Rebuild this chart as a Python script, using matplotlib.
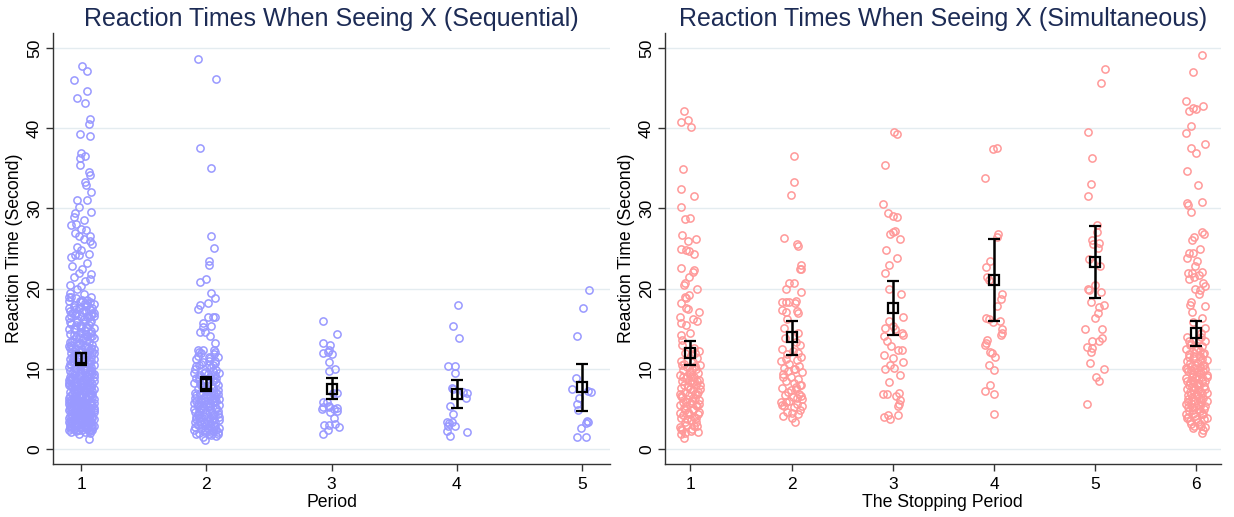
"""
Reaction time strip plots (Sequential vs Simultaneous) with mean and 95% CI
"""
import matplotlib
matplotlib.use('Agg')
import matplotlib.pyplot as plt

plt.rcParams['font.family'] = ['Liberation Sans', 'DejaVu Sans']

# ---- data: (jitter, reaction time in seconds) per period ----
seq_p1 = [
    (0.01, 47.8), (0.05, 47.2), (-0.06, 46.0), (0.05, 44.6), (-0.03, 43.8), (0.03, 43.2),
    (0.07, 41.2), (0.06, 40.5), (-0.01, 39.3), (0.07, 39.0), (0.00, 36.9), (0.03, 36.5),
    (-0.01, 36.3), (-0.01, 35.4), (0.06, 34.5), (0.07, 34.2), (0.03, 33.3), (0.04, 32.9),
    (0.08, 32.1), (0.05, 31.1), (-0.03, 31.0), (-0.02, 30.2), (0.08, 29.5), (-0.05, 29.4),
    (0.02, 28.5), (-0.06, 28.9), (-0.08, 27.9), (-0.04, 28.0), (0.00, 27.4), (0.04, 27.3),
    (-0.05, 26.9), (-0.02, 26.6), (0.07, 26.6), (0.02, 26.2), (0.09, 25.5), (0.07, 25.9),
    (-0.03, 25.2), (0.00, 24.8), (-0.05, 24.2), (-0.08, 24.0), (-0.02, 24.2), (0.06, 24.3),
    (-0.07, 22.8), (0.01, 22.4), (0.05, 23.2), (-0.02, 21.9), (-0.06, 21.4), (0.08, 21.8),
    (0.07, 21.2), (0.03, 21.0), (-0.09, 20.5), (0.00, 20.3), (-0.03, 20.0),
    (-0.09, 19.5), (0.02, 19.3), (0.08, 19.0), (-0.04, 18.8), (0.05, 18.6), (-0.10, 18.4),
    (0.00, 18.3), (0.10, 18.1), (-0.06, 17.9), (0.04, 17.8), (-0.02, 17.6), (0.07, 17.4),
    (-0.09, 17.2), (0.01, 17.1), (0.09, 16.9), (-0.05, 16.7), (0.05, 16.5), (-0.10, 16.3),
    (0.02, 16.2), (0.08, 16.0), (-0.03, 15.8), (-0.08, 15.6), (0.06, 15.5), (0.00, 15.3),
    (0.10, 15.1), (-0.06, 15.0), (0.03, 14.8), (-0.01, 14.6), (0.08, 14.5), (-0.09, 14.3),
    (0.05, 14.1), (-0.04, 14.0), (0.10, 13.8), (0.01, 13.6), (-0.07, 13.5), (0.06, 13.3),
    (-0.02, 13.1), (0.09, 13.0), (-0.10, 12.8), (0.03, 12.7), (-0.05, 12.5), (0.07, 12.3),
    (0.00, 12.2), (-0.08, 12.0), (0.10, 11.9), (0.04, 11.7), (-0.03, 11.5), (0.08, 11.4),
    (-0.09, 11.2), (0.02, 11.0), (-0.06, 10.9), (0.06, 10.7), (0.10, 10.5), (-0.01, 10.4),
    (-0.10, 10.2), (0.04, 10.1), (-0.04, 9.9), (0.08, 9.8), (0.00, 9.6), (-0.07, 9.5),
    (0.06, 9.3), (-0.02, 9.2), (0.10, 9.0), (-0.09, 8.9), (0.03, 8.8), (-0.05, 8.6),
    (0.07, 8.5), (0.01, 8.3), (-0.10, 8.2), (0.09, 8.1), (-0.03, 7.9), (0.05, 7.8),
    (-0.07, 7.7), (0.02, 7.5), (0.10, 7.4), (-0.01, 7.3), (-0.09, 7.1), (0.06, 7.0),
    (-0.04, 6.9), (0.08, 6.8), (0.00, 6.6), (-0.06, 6.5), (0.04, 6.4), (-0.10, 6.3),
    (0.10, 6.2), (-0.02, 6.0), (0.07, 5.9), (-0.08, 5.8), (0.02, 5.7), (-0.04, 5.6),
    (0.09, 5.5), (-0.09, 5.4), (0.05, 5.3), (0.00, 5.2), (-0.06, 5.1), (0.08, 5.0),
    (-0.01, 4.9), (-0.10, 4.8), (0.04, 4.7), (0.10, 4.6), (-0.05, 4.5), (0.01, 4.4),
    (-0.08, 4.3), (0.07, 4.2), (-0.03, 4.1), (0.05, 4.0), (-0.10, 3.9), (0.09, 3.8),
    (0.00, 3.7), (-0.06, 3.6), (0.03, 3.5), (-0.02, 3.4), (0.08, 3.3), (-0.09, 3.2),
    (0.06, 3.1), (-0.04, 3.0), (0.02, 2.9), (0.10, 2.8), (-0.07, 2.7), (-0.01, 2.6),
    (0.05, 2.5), (-0.10, 2.4), (0.09, 2.3), (-0.04, 2.2), (0.03, 2.1), (0.07, 2.0),
    (-0.02, 1.9), (0.06, 1.2),
    (0.05, 18.0), (-0.07, 16.9), (0.03, 15.9), (-0.05, 14.9), (0.07, 13.9), (-0.03, 12.9),
    (0.05, 11.8), (-0.07, 10.8), (0.02, 10.0), (-0.05, 9.4), (0.05, 9.1), (-0.08, 8.7),
    (0.07, 8.4), (-0.03, 8.0), (0.04, 7.6), (-0.06, 7.2), (0.01, 6.8), (0.09, 6.5),
    (-0.08, 6.1), (0.03, 5.8), (-0.03, 5.4), (0.06, 5.1), (-0.07, 4.8), (0.02, 4.5),
    (0.08, 4.3), (-0.05, 4.0), (0.01, 3.8), (-0.08, 3.5), (0.06, 3.3), (-0.03, 3.1),
    (0.04, 2.8), (-0.06, 2.5), (0.01, 2.3), (0.09, 2.6), (-0.09, 2.9), (0.07, 3.6),
    (-0.01, 4.2), (0.10, 4.9), (-0.10, 5.6), (0.03, 6.3), (-0.04, 7.0), (0.08, 7.7),
    (-0.09, 8.4), (0.00, 9.0), (0.09, 9.5), (-0.02, 10.6), (0.06, 11.1), (-0.06, 11.6),
    (0.01, 12.4), (-0.09, 13.3), (0.04, 14.3), (-0.01, 15.5), (0.08, 16.7), (-0.04, 17.4),
    (0.01, 18.6),
    (-0.08, 19.0), (0.03, 18.2), (0.09, 17.6), (-0.04, 17.0), (0.06, 16.4), (-0.09, 15.8),
    (0.00, 15.1), (0.08, 14.7), (-0.06, 14.2), (0.02, 13.8), (-0.01, 13.2), (0.05, 12.8),
    (-0.07, 12.4), (0.09, 12.1), (-0.04, 11.9), (0.02, 11.3), (0.08, 10.9), (-0.09, 10.6),
    (0.00, 10.3), (0.05, 9.9), (-0.06, 9.7), (0.10, 9.3), (-0.02, 9.1), (-0.10, 8.6),
    (0.04, 8.6), (-0.04, 8.3), (0.07, 8.0), (-0.08, 7.8), (0.01, 7.7), (0.09, 7.2),
    (-0.05, 7.4), (0.03, 7.1), (-0.02, 6.7), (0.06, 6.6), (-0.09, 6.6), (0.00, 6.3),
    (0.08, 6.0), (-0.06, 5.9), (0.04, 5.5), (-0.03, 5.8), (0.10, 5.7), (-0.08, 5.2),
    (0.02, 5.0), (0.07, 4.8), (-0.05, 4.6), (-0.01, 4.7), (0.05, 4.4), (-0.09, 4.1),
    (0.09, 4.1), (0.02, 3.9), (-0.04, 3.8), (0.06, 3.6), (-0.07, 3.4), (0.00, 3.2),
    (0.09, 3.0), (-0.05, 2.8), (0.04, 2.6), (-0.02, 2.4), (0.07, 2.2), (-0.08, 2.1),
    (0.10, 16.6), (-0.10, 17.6), (0.04, 17.2), (-0.03, 16.1), (0.01, 14.4), (-0.08, 13.0),
    (0.10, 12.5), (-0.03, 10.9), (0.08, 10.2), (-0.06, 8.0), (0.03, 9.5), (-0.01, 8.5),
    (0.06, 7.4), (-0.03, 6.4), (0.01, 5.4), (-0.06, 4.2), (0.03, 3.3), (-0.09, 2.6),
    (0.07, 9.8), (-0.07, 11.4),
    (-0.10, 18.9), (-0.01, 18.5), (0.07, 18.3), (-0.06, 17.7), (0.02, 17.3), (0.10, 17.0),
    (-0.08, 16.6), (0.00, 16.4), (0.07, 15.8), (-0.04, 15.4), (0.04, 15.2), (-0.10, 14.9),
    (0.09, 14.1), (-0.02, 13.9), (-0.06, 13.7), (0.05, 13.6), (0.01, 13.0), (-0.09, 12.6),
    (0.08, 12.6), (-0.02, 12.1), (0.04, 11.5), (-0.06, 11.3), (0.10, 11.2), (-0.03, 11.0),
    (0.01, 10.7), (-0.08, 10.5), (0.06, 10.4), (-0.05, 10.1), (0.03, 9.8), (-0.09, 9.7),
    (0.08, 9.6), (-0.01, 9.4), (0.05, 8.9), (-0.07, 8.9), (0.02, 8.5), (0.10, 8.4),
    (-0.05, 8.2), (0.00, 8.0), (-0.10, 7.9), (0.06, 7.6), (-0.03, 7.5), (0.03, 7.3),
    (-0.07, 6.9), (0.09, 6.9), (0.00, 6.5), (-0.05, 6.2), (0.05, 6.1), (-0.10, 6.0),
    (0.01, 5.9), (0.08, 5.6), (-0.06, 5.5), (-0.02, 5.3), (0.05, 5.2), (0.10, 5.1),
    (-0.09, 5.0), (0.00, 4.8), (-0.04, 4.4), (0.07, 4.5), (-0.07, 4.0), (0.03, 4.2),
    (0.10, 3.7), (-0.01, 3.6), (-0.10, 3.4), (0.05, 3.4), (-0.05, 3.2), (0.02, 3.0),
    (0.08, 2.9), (-0.08, 2.8), (0.00, 2.7), (0.06, 2.4), (-0.03, 2.3),
]
seq_p2 = [
    (-0.07, 48.6), (0.08, 46.2), (-0.05, 37.6), (0.04, 35.1), (0.04, 26.6), (0.06, 25.0),
    (0.02, 23.4), (0.02, 23.0), (0.00, 21.2), (-0.05, 20.8), (0.04, 19.5), (0.07, 18.8),
    (0.01, 18.2), (-0.05, 18.0), (-0.07, 17.4), (0.01, 16.5), (0.05, 16.5), (0.07, 16.5),
    (-0.03, 15.7), (-0.03, 15.2), (0.04, 15.3), (-0.05, 14.6), (-0.01, 14.6), (0.03, 14.1),
    (0.07, 13.2), (-0.07, 12.3), (-0.06, 12.1), (0.06, 12.3),
    (-0.04, 12.0), (0.06, 11.8), (0.09, 11.4), (-0.08, 11.2), (0.02, 11.0), (0.07, 10.7),
    (-0.06, 10.4), (0.04, 10.2), (-0.09, 10.0), (0.08, 9.8), (-0.01, 9.6), (0.10, 9.4),
    (-0.05, 9.2), (0.03, 9.0), (-0.08, 8.8), (0.06, 8.6), (0.00, 8.4), (-0.10, 8.2),
    (0.09, 8.0), (-0.03, 7.8), (0.05, 7.6), (-0.07, 7.4), (0.01, 7.2), (0.08, 7.0),
    (-0.05, 6.8), (0.03, 6.6), (-0.09, 6.4), (0.10, 6.2), (-0.01, 6.0), (0.06, 5.8),
    (-0.07, 5.6), (0.02, 5.5), (-0.03, 5.3), (0.08, 5.1), (-0.10, 5.0), (0.04, 4.8),
    (0.00, 4.6), (-0.06, 4.4), (0.09, 4.3), (-0.02, 4.1), (0.05, 3.9), (-0.08, 3.7),
    (0.01, 3.5), (0.07, 3.3), (-0.04, 3.1), (0.03, 2.9), (-0.09, 2.7), (0.10, 2.6),
    (-0.01, 2.4), (0.05, 2.2), (-0.06, 2.0), (0.02, 1.8), (0.08, 1.6), (-0.03, 1.5),
    (-0.01, 1.1), (0.09, 1.9),
    (0.02, 11.5), (-0.03, 10.8), (0.05, 9.7), (-0.06, 9.0), (0.08, 8.3), (-0.02, 7.7),
    (0.04, 7.1), (-0.08, 6.7), (0.07, 6.4), (-0.04, 5.9), (0.01, 5.2), (0.09, 4.7),
    (-0.07, 4.2), (0.03, 3.8), (-0.01, 3.3), (0.06, 2.8), (-0.10, 2.3), (0.04, 2.1),
    (-0.05, 3.5), (0.10, 4.0), (-0.09, 4.6), (0.00, 5.6), (0.06, 6.9), (-0.04, 7.9),
    (0.02, 8.7), (0.07, 9.2), (-0.08, 10.3), (0.03, 11.3), (-0.05, 5.0), (0.08, 6.0),
    (-0.02, 6.3), (0.01, 2.6),
    (-0.07, 11.6), (0.05, 10.5), (-0.02, 9.4), (0.08, 8.8), (-0.05, 8.1), (0.01, 7.5),
    (0.09, 6.8), (-0.08, 6.0), (0.03, 5.7), (-0.03, 4.9), (0.06, 4.4), (-0.06, 3.9),
    (0.00, 3.0), (0.08, 2.4), (-0.04, 2.6), (0.04, 1.7), (-0.09, 3.4), (0.10, 5.5),
    (-0.01, 6.6), (0.05, 8.5), (-0.10, 9.5), (0.02, 10.4), (0.07, 12.1), (-0.03, 12.3),
    (0.01, 4.0), (-0.07, 5.3), (0.06, 3.6), (-0.01, 2.1), (0.04, 6.1), (-0.05, 7.0),
    (-0.06, 8.6), (0.04, 8.0), (-0.02, 7.4), (0.09, 7.3), (-0.09, 7.0), (0.01, 6.7),
    (0.06, 6.3), (-0.04, 6.2), (-0.10, 5.7), (0.03, 5.4), (0.08, 5.0), (-0.06, 4.7),
    (0.00, 4.3), (0.05, 4.2), (-0.08, 4.0), (0.10, 3.6), (-0.02, 3.4), (0.03, 3.2),
    (-0.07, 3.0), (0.07, 2.9), (-0.04, 2.5), (0.02, 2.3), (0.09, 2.1), (-0.08, 1.9),
    (0.01, 9.3), (-0.04, 10.6), (0.07, 11.0),
]
seq_p3 = [
    (-0.07, 16.0), (0.04, 14.3), (-0.07, 13.2), (-0.01, 13.0), (-0.07, 11.9), (-0.03, 12.1),
    (-0.02, 12.3), (0.00, 11.8), (-0.02, 10.8), (-0.02, 9.7), (0.03, 10.0), (0.01, 7.0),
    (0.04, 7.0), (-0.07, 5.9), (-0.04, 5.9), (-0.02, 5.4), (-0.08, 5.0), (-0.07, 5.2),
    (-0.02, 5.2), (0.02, 5.0), (0.04, 5.1), (-0.01, 4.6), (0.04, 4.7), (0.02, 3.8),
    (-0.06, 3.0), (-0.02, 3.0), (-0.03, 2.4), (0.03, 3.1), (0.06, 2.7), (-0.07, 1.8),
]
seq_p4 = [
    (0.01, 17.9), (-0.03, 15.3), (0.02, 13.8), (-0.07, 10.3), (-0.01, 10.3), (-0.01, 9.5),
    (-0.04, 7.6), (-0.03, 7.5), (0.05, 7.1), (0.08, 7.0), (0.07, 6.3), (-0.05, 5.4),
    (-0.03, 4.3), (-0.08, 3.3), (-0.06, 3.2), (-0.04, 3.3), (-0.07, 2.9), (-0.01, 2.9),
    (-0.08, 2.2), (0.08, 2.1), (-0.05, 1.6),
]
seq_p5 = [
    (0.06, 19.8), (0.01, 17.6), (-0.04, 14.1), (-0.05, 8.8), (-0.08, 7.4), (0.07, 7.1),
    (0.05, 7.2), (-0.02, 6.4), (-0.04, 5.6), (-0.03, 4.8), (0.04, 3.5), (0.05, 3.4),
    (0.03, 3.2), (-0.01, 2.6), (-0.04, 1.5), (0.03, 1.5),
]

sim_p1 = [
    (-0.06, 42.1), (-0.09, 40.8), (-0.02, 41.0), (0.01, 40.2), (-0.07, 34.9), (-0.09, 32.4),
    (0.04, 31.5), (-0.09, 30.2), (-0.05, 28.7), (0.00, 28.8), (-0.08, 26.7), (0.06, 26.2),
    (-0.02, 25.9), (-0.09, 24.9), (-0.04, 24.8), (-0.01, 24.7), (0.04, 24.3), (-0.09, 22.6),
    (0.03, 22.1), (0.04, 22.3), (-0.01, 21.4), (-0.05, 20.7), (-0.06, 20.5), (0.07, 19.9),
    (-0.01, 19.2), (-0.04, 18.8), (-0.05, 19.0), (-0.09, 18.2), (-0.04, 17.6), (-0.02, 17.4),
    (0.09, 17.1), (0.03, 16.2), (0.07, 16.0), (-0.10, 16.5), (-0.09, 15.7), (-0.04, 15.4),
    (0.00, 14.4), (-0.09, 14.2), (-0.08, 13.6),
    (-0.08, 13.0), (0.04, 12.6), (0.09, 12.2), (-0.05, 12.0), (0.01, 11.7), (0.07, 11.3),
    (-0.09, 11.0), (0.03, 10.8), (0.10, 10.5), (-0.03, 10.2), (0.06, 10.0), (-0.07, 9.8),
    (0.00, 9.6), (0.08, 9.4), (-0.10, 9.2), (0.04, 9.0), (-0.04, 8.8), (0.09, 8.6),
    (-0.08, 8.4), (0.02, 8.2), (0.06, 8.0), (-0.02, 7.8), (-0.09, 7.6), (0.10, 7.5),
    (0.03, 7.3), (-0.05, 7.1), (0.07, 6.9), (-0.01, 6.7), (-0.08, 6.5), (0.05, 6.3),
    (0.09, 6.1), (-0.04, 5.9), (0.01, 5.7), (-0.10, 5.5), (0.07, 5.3), (-0.06, 5.1),
    (0.03, 4.9), (-0.02, 4.6), (0.08, 4.4), (-0.07, 4.2), (0.04, 4.0), (-0.09, 3.8),
    (0.01, 3.6), (0.06, 3.3), (-0.04, 3.0), (-0.10, 2.7), (0.02, 2.5), (-0.08, 2.3),
    (-0.05, 2.0), (-0.09, 1.9), (0.08, 2.1), (-0.06, 1.4),
    (0.05, 11.9), (-0.06, 10.6), (0.02, 9.9), (-0.03, 9.1), (0.07, 8.5), (-0.06, 8.0),
    (0.00, 7.4), (0.05, 6.8), (-0.03, 6.2), (0.09, 5.6), (-0.07, 5.8), (0.03, 5.0),
    (-0.01, 4.3), (0.06, 3.9), (-0.05, 3.4), (0.10, 7.9), (-0.10, 6.9), (0.01, 8.9),
    (-0.09, 2.5), (0.04, 2.8),
    (-0.07, 9.0), (0.04, 8.4), (-0.02, 7.7), (0.08, 7.1), (-0.09, 6.6), (0.02, 6.0),
    (0.06, 5.5), (-0.05, 4.8), (0.09, 4.6), (-0.03, 3.7), (0.00, 9.3), (0.05, 10.3),
    (-0.08, 10.4), (0.03, 6.4), (-0.04, 5.3), (0.07, 2.9), (-0.10, 4.5), (0.01, 2.2),
]
sim_p2 = [
    (0.02, 36.6), (0.02, 33.3), (-0.01, 31.7), (-0.07, 26.3), (0.05, 25.5), (0.06, 25.3),
    (0.09, 23.0), (0.09, 22.4), (0.08, 22.5), (-0.02, 20.7), (0.02, 20.7), (-0.05, 19.9),
    (0.09, 19.6), (-0.09, 18.3), (-0.05, 18.3), (-0.02, 18.3), (0.03, 18.2), (0.04, 18.5),
    (-0.09, 17.3), (-0.05, 17.1), (0.05, 17.2), (0.06, 17.0), (-0.04, 16.2), (-0.07, 15.1),
    (0.06, 14.4),
    (-0.06, 13.8), (0.04, 13.3), (0.08, 12.9), (-0.09, 12.5), (0.01, 12.2), (-0.04, 11.8),
    (0.09, 11.5), (0.05, 11.1), (-0.10, 10.9), (-0.02, 10.6), (0.07, 10.3), (-0.07, 10.1),
    (0.03, 9.9), (0.10, 9.6), (-0.08, 9.3), (-0.01, 9.0), (0.06, 8.7), (-0.05, 8.4),
    (0.02, 8.2), (0.09, 7.9), (-0.09, 7.6), (0.04, 7.4), (-0.03, 7.1), (0.07, 6.9),
    (-0.06, 6.7), (0.01, 6.5), (0.10, 6.2), (-0.02, 6.0), (-0.10, 5.8), (0.05, 5.6),
    (-0.07, 5.4), (0.02, 5.2), (0.08, 4.9), (-0.04, 4.6), (0.06, 4.3), (-0.08, 4.1),
    (0.00, 3.9), (0.03, 3.4),
    (0.06, 12.0), (-0.05, 11.2), (0.02, 10.0), (-0.08, 8.9), (0.08, 8.0), (-0.01, 7.3),
    (0.05, 6.4), (-0.05, 5.9), (0.10, 5.3), (-0.09, 5.5), (0.00, 4.5), (0.09, 6.6),
    (-0.03, 9.7), (0.04, 7.7),
]
sim_p3 = [
    (0.01, 39.6), (0.04, 39.3), (-0.08, 35.4), (-0.10, 30.6), (-0.05, 29.4), (0.00, 29.1),
    (0.04, 28.9), (-0.03, 26.8), (0.00, 27.1), (0.02, 27.2), (0.07, 26.2), (-0.07, 24.8),
    (0.04, 23.8), (-0.04, 22.9), (-0.08, 21.9), (-0.04, 20.0), (0.08, 19.3), (0.10, 16.5),
    (-0.04, 15.9), (0.02, 14.9), (0.00, 15.3), (-0.08, 15.1), (0.09, 14.5), (0.10, 14.2),
    (-0.09, 14.1), (-0.06, 13.4), (-0.02, 12.8), (0.05, 12.3), (0.09, 12.3), (-0.09, 11.7),
    (0.00, 11.3), (-0.08, 9.9), (-0.03, 10.4), (0.01, 10.1), (0.10, 10.8), (0.07, 9.2),
    (-0.04, 8.3), (-0.10, 6.9), (-0.06, 6.9), (0.06, 7.0), (0.03, 6.6), (0.07, 6.1),
    (0.06, 5.6), (0.05, 5.4), (-0.09, 4.0), (-0.05, 4.2), (-0.03, 3.7), (0.05, 4.2),
]
sim_p4 = [
    (-0.01, 37.4), (0.03, 37.5), (-0.09, 33.8), (0.04, 26.8), (0.03, 26.4), (-0.04, 23.5),
    (-0.08, 22.7), (-0.07, 21.5), (-0.05, 21.1), (0.08, 19.3), (0.07, 18.7), (0.03, 17.8),
    (-0.08, 16.3), (-0.05, 16.2), (0.06, 16.0), (-0.01, 15.8), (0.08, 14.9), (0.08, 14.4),
    (0.07, 14.2), (-0.07, 13.6), (-0.08, 13.2), (-0.09, 12.9), (-0.04, 12.1), (-0.02, 11.9),
    (0.01, 11.4), (-0.05, 10.4), (0.00, 9.8), (-0.04, 8.0), (-0.09, 7.2), (0.00, 6.8),
    (0.00, 4.3),
]
sim_p5 = [
    (0.10, 47.4), (0.06, 45.6), (-0.07, 39.6), (-0.03, 36.3), (-0.04, 33.0), (-0.07, 31.5),
    (0.02, 27.9), (0.02, 27.0), (-0.03, 26.0), (0.04, 25.7), (-0.02, 25.5), (0.03, 25.0),
    (-0.06, 23.7), (0.05, 22.8), (-0.02, 23.2), (0.00, 20.5), (-0.07, 20.0), (-0.06, 19.8),
    (0.06, 19.6), (-0.04, 18.3), (0.09, 18.0), (0.04, 17.7), (0.03, 17.0), (0.00, 16.3),
    (-0.10, 14.9), (0.07, 14.9), (0.07, 13.8), (0.04, 13.5), (-0.03, 13.4), (-0.08, 12.7),
    (-0.04, 12.1), (-0.03, 12.6), (-0.05, 10.7), (0.09, 9.9), (0.01, 8.9), (0.04, 8.5),
    (-0.08, 5.6),
]
sim_p6 = [
    (0.06, 49.1), (-0.03, 47.0), (-0.10, 43.4), (-0.07, 42.1), (-0.03, 42.5), (0.00, 42.4),
    (0.07, 42.8), (-0.05, 40.3), (-0.10, 39.4), (0.09, 38.0), (-0.05, 37.5), (0.00, 36.9),
    (-0.09, 34.7), (0.02, 32.9), (0.06, 30.8), (-0.09, 30.7), (-0.08, 30.4), (-0.05, 29.6),
    (0.06, 27.0), (0.08, 26.8), (-0.02, 26.4), (-0.04, 26.0), (0.04, 24.9), (-0.07, 24.5),
    (-0.03, 24.5), (-0.09, 23.8), (0.01, 23.4), (-0.01, 22.8), (-0.08, 21.9), (-0.04, 21.9),
    (0.06, 22.1), (-0.02, 21.4), (0.03, 21.7), (0.07, 20.7), (-0.07, 21.2), (-0.01, 20.0),
    (0.04, 19.8), (0.09, 20.3), (0.03, 19.3), (-0.05, 18.3), (-0.06, 18.0), (0.09, 17.8),
    (-0.04, 17.1), (0.06, 16.3), (-0.03, 15.8), (0.09, 15.1), (0.05, 14.4),
    (-0.09, 14.0), (0.03, 13.7), (0.09, 13.4), (-0.05, 13.1), (0.06, 12.8), (-0.10, 12.5),
    (0.00, 12.3), (0.08, 12.0), (-0.07, 11.8), (0.04, 11.6), (-0.03, 11.3), (0.10, 11.1),
    (-0.09, 10.9), (0.02, 10.7), (0.07, 10.5), (-0.05, 10.3), (-0.01, 10.1), (0.09, 9.9),
    (-0.08, 9.7), (0.05, 9.5), (-0.03, 9.3), (0.01, 9.1), (0.10, 8.9), (-0.10, 8.8),
    (-0.04, 8.6), (0.06, 8.4), (0.02, 8.2), (-0.07, 8.0), (0.08, 7.8), (-0.01, 7.6),
    (-0.09, 7.4), (0.04, 7.2), (0.10, 7.0), (-0.05, 6.8), (0.01, 6.6), (0.07, 6.4),
    (-0.08, 6.2), (-0.02, 6.0), (0.05, 5.8), (-0.10, 5.6), (0.09, 5.4), (-0.04, 5.2),
    (0.03, 5.0), (-0.07, 4.7), (0.06, 4.4), (-0.01, 4.1), (-0.09, 3.9), (0.08, 3.7),
    (0.02, 3.4), (-0.05, 3.1), (0.05, 2.9), (-0.03, 2.6), (0.07, 2.3), (0.06, 2.0),
    (0.10, 3.9), (-0.10, 4.4),
    (0.05, 13.9), (-0.06, 12.9), (0.02, 12.6), (-0.02, 11.9), (0.06, 11.2), (-0.06, 10.7),
    (0.04, 10.2), (-0.09, 9.9), (0.07, 9.7), (-0.04, 9.0), (0.09, 8.5), (-0.06, 8.3),
    (0.01, 7.9), (-0.03, 7.3), (0.06, 7.0), (-0.08, 6.7), (0.03, 6.3), (0.10, 6.0),
    (-0.05, 5.7), (0.00, 5.3), (0.08, 5.0), (-0.08, 5.2), (0.04, 4.7), (-0.03, 4.4),
    (0.03, 9.4), (-0.01, 8.8), (0.05, 10.9), (-0.07, 11.5), (0.01, 6.9), (-0.02, 2.9),
    (0.00, 3.7),
    (-0.07, 13.5), (0.04, 12.2), (-0.02, 11.6), (0.08, 10.4), (-0.05, 9.8), (0.01, 9.6),
    (0.06, 9.0), (-0.09, 8.5), (0.03, 8.0), (-0.04, 7.7), (0.09, 7.4), (-0.06, 7.1),
    (0.00, 6.8), (0.05, 6.2), (-0.08, 5.9), (0.02, 5.6), (-0.03, 4.9), (0.07, 4.3),
    (-0.06, 3.5), (0.04, 3.1), (0.09, 2.7), (-0.01, 10.5), (0.07, 11.8), (-0.10, 10.1),
    (0.02, 7.3), (-0.04, 6.5), (0.10, 9.2), (-0.08, 4.0), (0.04, 5.3), (-0.02, 8.3),
]

# means with 95% confidence intervals
seq_mean = [11.3, 8.1, 7.5, 6.9, 7.7]
seq_lo = [10.5, 7.2, 6.2, 5.1, 4.7]
seq_hi = [12.0, 9.0, 8.8, 8.6, 10.6]
sim_mean = [11.9, 13.9, 17.6, 21.1, 23.3, 14.4]
sim_lo = [10.4, 11.7, 14.2, 16.0, 18.8, 12.8]
sim_hi = [13.4, 15.9, 21.0, 26.2, 27.8, 16.0]

TITLE_COLOR = '#1c2b55'
GRID_COLOR = '#e4ecf0'


def draw_panel(ax, groups, means, lo, hi, color, title, xlabel, xlim):
    """Jittered raw points plus black mean/CI markers, Stata-like styling"""
    for period, pts in enumerate(groups, 1):
        xs = [period + j for j, _ in pts]
        ys = [v for _, v in pts]
        ax.plot(xs, ys, 'o', ms=5.2, mfc='none', mec=color, mew=1.1, ls='none', zorder=2)

    periods = list(range(1, len(means) + 1))
    yerr = [[m - l for m, l in zip(means, lo)], [h - m for m, h in zip(means, hi)]]
    ax.errorbar(periods, means, yerr=yerr, fmt='s', ms=7.5, mfc='none', mec='black',
                mew=1.6, ecolor='black', elinewidth=1.8, capsize=4, capthick=1.8, zorder=4)

    ax.set_xlim(*xlim)
    ax.set_ylim(-1.9, 51.9)
    ax.set_xticks(periods)
    ax.set_yticks(range(0, 51, 10))
    ax.grid(axis='y', color=GRID_COLOR, lw=1.0, zorder=0)
    ax.set_axisbelow(True)

    for side in ('top', 'right'):
        ax.spines[side].set_visible(False)
    for side in ('left', 'bottom'):
        ax.spines[side].set_color('#333333')
        ax.spines[side].set_linewidth(1.0)

    ax.tick_params(axis='both', colors='#333333', labelcolor='black', labelsize=12.5,
                   length=5, width=1.0)
    ax.tick_params(axis='y', pad=3)
    ax.tick_params(axis='x', pad=4)
    for lab in ax.get_yticklabels():
        lab.set_rotation(90)
        lab.set_va('center')

    ax.set_title(title, color=TITLE_COLOR, fontsize=18, pad=5)
    ax.set_xlabel(xlabel, fontsize=12.7, labelpad=2)
    ax.set_ylabel('Reaction Time (Second)', fontsize=12.7, labelpad=3)


fig = plt.figure(figsize=(12.34, 5.17), dpi=100)
fig.patch.set_facecolor('white')

ax1 = fig.add_axes([0.0430, 0.1025, 0.4514, 0.8337])
ax2 = fig.add_axes([0.5389, 0.1025, 0.4503, 0.8337])

draw_panel(ax1, [seq_p1, seq_p2, seq_p3, seq_p4, seq_p5], seq_mean, seq_lo, seq_hi,
           '#9999ff', 'Reaction Times When Seeing X (Sequential)', 'Period', (0.775, 5.225))
draw_panel(ax2, [sim_p1, sim_p2, sim_p3, sim_p4, sim_p5, sim_p6], sim_mean, sim_lo, sim_hi,
           '#ff9999', 'Reaction Times When Seeing X (Simultaneous)', 'The Stopping Period',
           (0.75, 6.24))

fig.savefig('out.png', dpi=100, facecolor='white')
plt.close(fig)
